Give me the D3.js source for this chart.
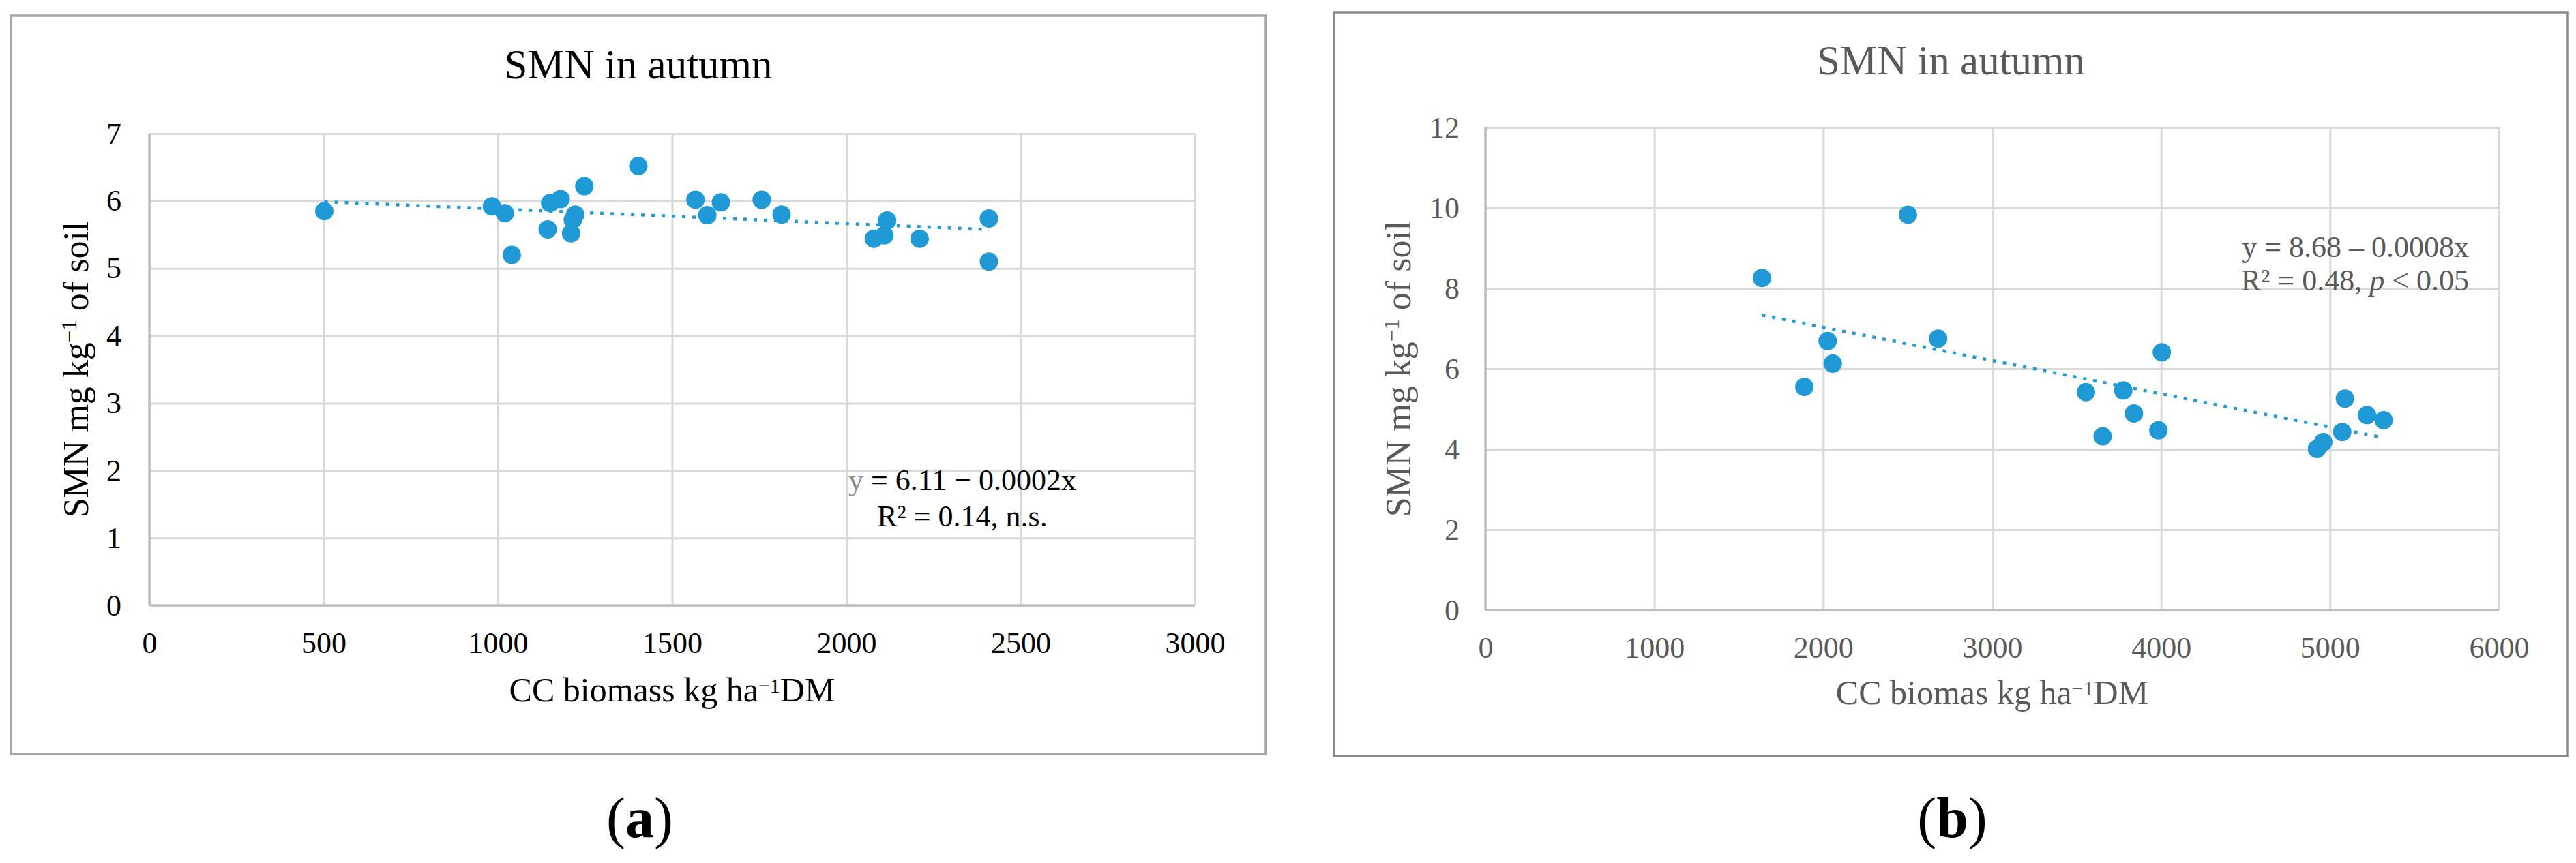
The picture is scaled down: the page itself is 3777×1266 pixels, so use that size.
<!DOCTYPE html>
<html>
<head>
<meta charset="utf-8">
<script src="https://cdn.jsdelivr.net/npm/d3@7"></script>
<style>
  body { margin: 0; background: #fff; }
  svg { display: block; }
  text { font-family: "Liberation Serif", "Times New Roman", serif; }
</style>
</head>
<body>
<div id="chart"></div>
<script>
// panel (a): SMN vs CC biomass
const biomassA = [502, 983, 1020, 1040, 1143, 1150, 1180, 1210, 1215, 1222, 1248, 1403,
  1567, 1601, 1640, 1757, 1814, 2079, 2109, 2117, 2210, 2409, 2409];
const smnA = [5.85, 5.92, 5.82, 5.20, 5.58, 5.97, 6.03, 5.52, 5.72, 5.80, 6.22, 6.52,
  6.02, 5.79, 5.98, 6.02, 5.80, 5.44, 5.49, 5.71, 5.44, 5.74, 5.10];
const xTicksA = [0, 500, 1000, 1500, 2000, 2500, 3000];
const yTicksA = [0, 1, 2, 3, 4, 5, 6, 7];

// panel (b): SMN vs CC biomas
const biomassB = [1637, 2501, 2026, 2056, 1888, 2680, 3555, 3654, 3776, 3839, 3984, 4004,
  4923, 4960, 5072, 5088, 5219, 5318];
const smnB = [8.26, 9.83, 6.69, 6.13, 5.55, 6.75, 5.42, 4.32, 5.46, 4.89, 4.47, 6.41,
  4.01, 4.18, 4.43, 5.26, 4.85, 4.72];
const xTicksB = [0, 1000, 2000, 3000, 4000, 5000, 6000];
const yTicksB = [0, 2, 4, 6, 8, 10, 12];

const chartTitle = "SMN in autumn";
const blue = "#1f9ad6";

const W = 3777, H = 1266;
const svg = d3.select("#chart").append("svg")
  .attr("width", W)
  .attr("height", H)
  .attr("viewBox", [0, 0, W, H]);

// least squares line, what Excel draws as the linear trendline
function linearFit(xs, ys) {
  const mx = d3.mean(xs), my = d3.mean(ys);
  const sxy = d3.sum(xs, (x, i) => (x - mx) * (ys[i] - my));
  const sxx = d3.sum(xs, (x) => (x - mx) * (x - mx));
  const slope = sxy / sxx;
  return { slope, intercept: my - slope * mx };
}

function scatterPanel(p) {
  const g = svg.append("g").attr("color", p.textColor).attr("fill", p.textColor);

  g.append("rect")
    .attr("x", p.box[0]).attr("y", p.box[1])
    .attr("width", p.box[2] - p.box[0]).attr("height", p.box[3] - p.box[1])
    .attr("fill", "none")
    .attr("stroke", p.boxColor)
    .attr("stroke-width", 3.5);

  const x = d3.scaleLinear().domain(d3.extent(p.xTicks)).range([p.plot.left, p.plot.right]);
  const y = d3.scaleLinear().domain(d3.extent(p.yTicks)).range([p.plot.bottom, p.plot.top]);
  const h = p.plot.bottom - p.plot.top, w = p.plot.right - p.plot.left;

  // gridlines
  g.append("g")
    .attr("transform", `translate(0,${p.plot.bottom})`)
    .call(d3.axisBottom(x).tickValues(p.xTicks).tickSize(-h).tickFormat(""))
    .call((s) => s.select(".domain").remove())
    .selectAll("line").attr("stroke", "#d9d9d9").attr("stroke-width", 3);
  g.append("g")
    .attr("transform", `translate(${p.plot.left},0)`)
    .call(d3.axisLeft(y).tickValues(p.yTicks).tickSize(-w).tickFormat(""))
    .call((s) => s.select(".domain").remove())
    .selectAll("line").attr("stroke", "#d9d9d9").attr("stroke-width", 3);

  // axis lines
  g.append("line")
    .attr("x1", p.plot.left).attr("x2", p.plot.right)
    .attr("y1", p.plot.bottom).attr("y2", p.plot.bottom)
    .attr("stroke", "#bfbfbf").attr("stroke-width", 3.5);
  g.append("line")
    .attr("x1", p.plot.left).attr("x2", p.plot.left)
    .attr("y1", p.plot.top).attr("y2", p.plot.bottom)
    .attr("stroke", "#bfbfbf").attr("stroke-width", 3.5);

  // tick labels
  const xa = g.append("g")
    .attr("transform", `translate(0,${p.plot.bottom})`)
    .call(d3.axisBottom(x).tickValues(p.xTicks).tickSize(0).tickPadding(39).tickFormat(d3.format("d")));
  const ya = g.append("g")
    .attr("transform", `translate(${p.plot.left},0)`)
    .call(d3.axisLeft(y).tickValues(p.yTicks).tickSize(0).tickPadding(p.yPad).tickFormat(d3.format("d")));
  [xa, ya].forEach((a) => {
    a.select(".domain").remove();
    a.attr("font-family", null).attr("font-size", 44);
  });

  // markers
  g.append("g")
    .selectAll("circle")
    .data(p.xs)
    .join("circle")
    .attr("cx", (d) => x(d))
    .attr("cy", (d, i) => y(p.ys[i]))
    .attr("r", 13.5)
    .attr("fill", blue);

  // dotted trendline
  const fit = linearFit(p.xs, p.ys);
  const [x0, x1] = d3.extent(p.xs);
  g.append("line")
    .attr("x1", x(x0)).attr("y1", y(fit.intercept + fit.slope * x0))
    .attr("x2", x(x1)).attr("y2", y(fit.intercept + fit.slope * x1))
    .attr("stroke", blue)
    .attr("stroke-width", 4.5)
    .attr("stroke-dasharray", "5 10");

  // title
  g.append("text")
    .attr("x", (p.box[0] + p.box[2]) / 2)
    .attr("y", p.titleY)
    .attr("text-anchor", "middle")
    .attr("font-size", 61)
    .text(chartTitle);

  // x axis title
  const xt = g.append("text")
    .attr("x", (p.plot.left + p.plot.right) / 2)
    .attr("y", p.xTitleY)
    .attr("text-anchor", "middle")
    .attr("font-size", 50);
  xt.append("tspan").text(p.xTitle + " ha");
  xt.append("tspan").attr("font-size", 30).attr("dy", -13).text("−1");
  xt.append("tspan").attr("dy", 13).text("DM");

  // y axis title
  const yt = g.append("text")
    .attr("transform", `translate(${p.yTitleX},${(p.plot.top + p.plot.bottom) / 2}) rotate(-90)`)
    .attr("text-anchor", "middle")
    .attr("font-size", 52);
  yt.append("tspan").text("SMN mg kg");
  yt.append("tspan").attr("font-size", 31).attr("dy", -17).text("−1");
  yt.append("tspan").attr("dy", 17).text(" of soil");

  // equation
  const eq = g.append("text")
    .attr("font-size", 44)
    .attr("text-anchor", p.eq.anchor);
  p.eq.lines(eq, p.eq.x, p.eq.y);

  // caption
  const cap = g.append("text")
    .attr("x", (p.box[0] + p.box[2]) / 2 + 2)
    .attr("y", 1228)
    .attr("text-anchor", "middle")
    .attr("font-size", 84)
    .attr("fill", "#000");
  cap.append("tspan").text("(");
  cap.append("tspan").attr("font-weight", "bold").text(p.caption);
  cap.append("tspan").text(")");
}

scatterPanel({
  xs: biomassA, ys: smnA, xTicks: xTicksA, yTicks: yTicksA,
  box: [16, 23, 1856, 1106], boxColor: "#a6a6a6", textColor: "#000",
  plot: { left: 219, right: 1752, top: 196, bottom: 888 },
  yPad: 41, titleY: 115, xTitleY: 1029, yTitleX: 129,
  xTitle: "CC biomass kg",
  caption: "a",
  eq: {
    anchor: "middle", x: 1411, y: 719,
    lines: (t, x, y) => {
      const l1 = t.append("tspan").attr("x", x).attr("y", y);
      l1.append("tspan").attr("fill", "#8c8c8c").text("y");
      l1.append("tspan").text(" = 6.11 − 0.0002x");
      t.append("tspan").attr("x", x).attr("y", y + 53).text("R² = 0.14, n.s.");
    }
  }
});

scatterPanel({
  xs: biomassB, ys: smnB, xTicks: xTicksB, yTicks: yTicksB,
  box: [1956, 18, 3765, 1109], boxColor: "#8a8a8a", textColor: "#595959",
  plot: { left: 2178, right: 3664, top: 187, bottom: 895 },
  yPad: 38, titleY: 109, xTitleY: 1033, yTitleX: 2068,
  xTitle: "CC biomas kg",
  caption: "b",
  eq: {
    anchor: "end", x: 3620, y: 377,
    lines: (t, x, y) => {
      t.append("tspan").attr("x", x).attr("y", y).text("y = 8.68 – 0.0008x");
      const l2 = t.append("tspan").attr("x", x).attr("y", y + 49);
      l2.append("tspan").text("R² = 0.48, ");
      l2.append("tspan").attr("font-style", "italic").text("p");
      l2.append("tspan").text(" < 0.05");
    }
  }
});
</script>
</body>
</html>
